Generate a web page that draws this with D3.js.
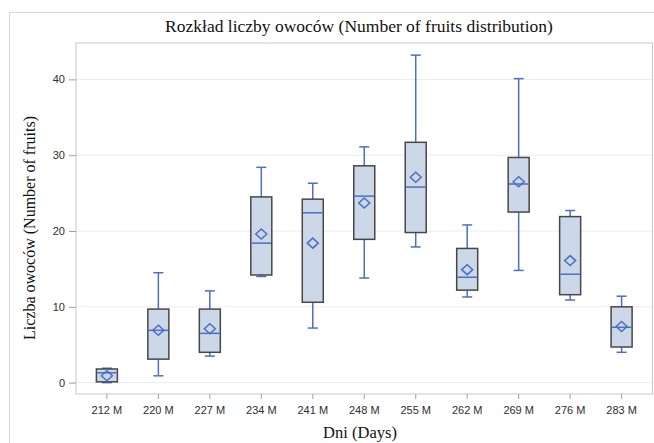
<!DOCTYPE html>
<html><head><meta charset="utf-8">
<script src="https://cdn.jsdelivr.net/npm/d3@7"></script>
<style>body{margin:0;background:#fff}</style>
</head><body>
<svg id="c" width="654" height="443"></svg>
<script>
const categories = ["212 M","220 M","227 M","234 M","241 M","248 M","255 M","262 M","269 M","276 M","283 M"];
const minV    = [0.0, 0.9, 3.5, 14.0, 7.2, 13.8, 17.9, 11.3, 14.8, 10.9, 4.0];
const q1V     = [0.1, 3.1, 4.0, 14.2, 10.6, 18.9, 19.8, 12.2, 22.5, 11.6, 4.7];
const medianV = [1.3, 6.9, 6.5, 18.4, 22.4, 24.6, 25.8, 13.9, 26.2, 14.3, 7.3];
const q3V     = [1.8, 9.7, 9.7, 24.5, 24.2, 28.6, 31.7, 17.7, 29.7, 21.9, 10.0];
const maxV    = [1.9, 14.5, 12.1, 28.4, 26.3, 31.1, 43.2, 20.8, 40.1, 22.7, 11.4];
const meanV   = [0.9, 6.9, 7.1, 19.6, 18.4, 23.7, 27.1, 14.9, 26.5, 16.1, 7.4];
const yTicks  = [0, 10, 20, 30, 40];

const svg = d3.select("#c");
const L = 76, R = 652.5, T = 43, B = 394;
const x = d3.scaleBand().domain(categories).range([L, R]).paddingInner(0).paddingOuter(0.1);
const y = d3.scaleLinear().domain([-1.5, 44.8]).range([B, T]);
const blue = "#4a6fc4";

// outer frame
svg.append("rect").attr("x", 9.5).attr("y", 12.5).attr("width", 700).attr("height", 500)
  .attr("fill", "none").attr("stroke", "#d9d9d9");

// gridlines
svg.append("g").selectAll("line").data(yTicks).join("line")
  .attr("x1", L).attr("x2", R).attr("y1", d => y(d)).attr("y2", d => y(d))
  .attr("stroke", "#ececec").attr("stroke-width", 1);

// plot frame
svg.append("rect").attr("x", L).attr("y", T).attr("width", R - L).attr("height", B - T)
  .attr("fill", "none").attr("stroke", "#c8c8c8");

// axes
const yAxis = svg.append("g").attr("transform", `translate(${L},0)`)
  .call(d3.axisLeft(y).tickValues(yTicks).tickSize(7).tickPadding(4));
const xAxis = svg.append("g").attr("transform", `translate(0,${B})`)
  .call(d3.axisBottom(x).tickSize(5).tickPadding(7));
[yAxis, xAxis].forEach(g => {
  g.select(".domain").remove();
  g.selectAll("line").attr("stroke", "#a0a0a0");
  g.selectAll("text").attr("fill", "#2e2e2e").style("font-family", "Arial, 'Liberation Sans', sans-serif").style("font-size", "11px");
});

const data = categories.map((c, i) => ({c, min: minV[i], q1: q1V[i], med: medianV[i], q3: q3V[i], max: maxV[i], mean: meanV[i]}));
const bw = 21, cap = 10;
const g = svg.append("g").selectAll("g").data(data).join("g")
  .attr("transform", d => `translate(${x(d.c) + x.bandwidth() / 2},0)`);

// whiskers
g.append("line").attr("x1", 0).attr("x2", 0).attr("y1", d => y(d.max)).attr("y2", d => y(d.q3))
  .attr("stroke", blue).attr("stroke-width", 1.5);
g.append("line").attr("x1", 0).attr("x2", 0).attr("y1", d => y(d.q1)).attr("y2", d => y(d.min))
  .attr("stroke", blue).attr("stroke-width", 1.5);
g.append("line").attr("x1", -cap / 2).attr("x2", cap / 2).attr("y1", d => y(d.max)).attr("y2", d => y(d.max))
  .attr("stroke", blue).attr("stroke-width", 1.5);
g.append("line").attr("x1", -cap / 2).attr("x2", cap / 2).attr("y1", d => y(d.min)).attr("y2", d => y(d.min))
  .attr("stroke", blue).attr("stroke-width", 1.5);
// box
g.append("rect").attr("x", -bw / 2).attr("width", bw)
  .attr("y", d => y(d.q3)).attr("height", d => y(d.q1) - y(d.q3))
  .attr("fill", "#ccd8e8").attr("stroke", "#474747").attr("stroke-width", 1.5);
// median
g.append("line").attr("x1", -bw / 2 + 0.75).attr("x2", bw / 2 - 0.75).attr("y1", d => y(d.med)).attr("y2", d => y(d.med))
  .attr("stroke", blue).attr("stroke-width", 1.5);
// mean diamond
g.append("path").attr("d", d => {
    const cy = y(d.mean), w = 5.5, h = 5;
    return `M${-w},${cy}L0,${cy - h}L${w},${cy}L0,${cy + h}Z`;
  }).attr("fill", "none").attr("stroke", blue).attr("stroke-width", 1.5);

// titles
const serif = "'Liberation Serif', 'Times New Roman', serif";
svg.append("text").attr("x", 359).attr("y", 32).attr("text-anchor", "middle")
  .style("font-family", serif).style("font-size", "17.5px").attr("fill", "#111")
  .text("Rozkład liczby owoców (Number of fruits distribution)");
svg.append("text").attr("x", 360).attr("y", 438).attr("text-anchor", "middle")
  .style("font-family", serif).style("font-size", "16.5px").attr("fill", "#111")
  .text("Dni (Days)");
svg.append("text").attr("transform", "translate(35,228) rotate(-90)").attr("text-anchor", "middle")
  .style("font-family", serif).style("font-size", "16px").attr("fill", "#111")
  .text("Liczba owoców (Number of fruits)");
</script>
</body></html>
